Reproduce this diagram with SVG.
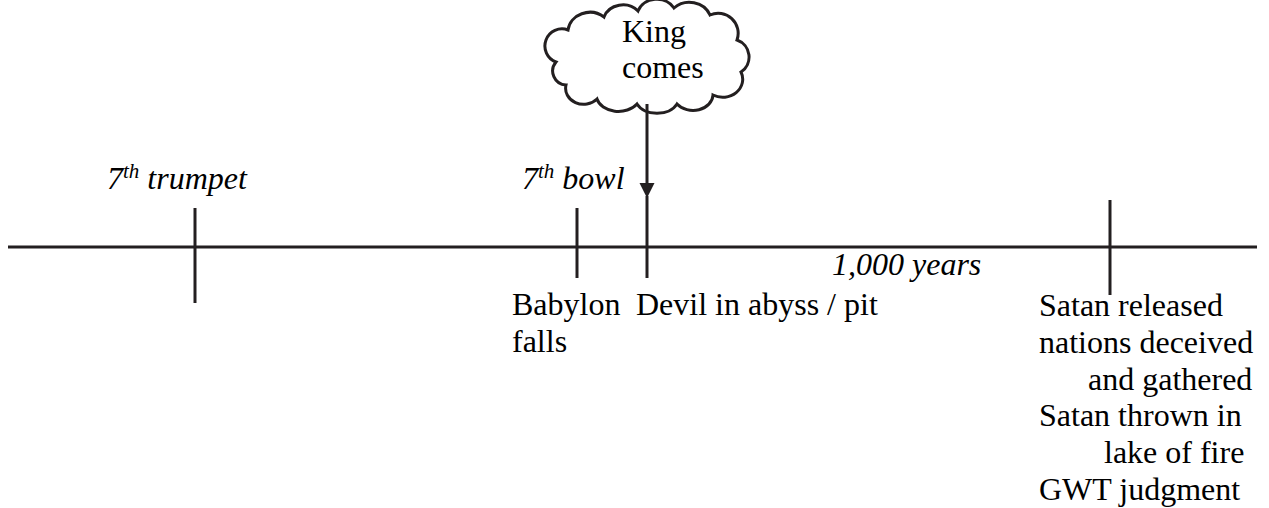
<svg xmlns="http://www.w3.org/2000/svg" width="1269" height="508" viewBox="0 0 1269 508">
  <style>
    .ln { stroke: #231f20; stroke-width: 3; fill: none; }
    .t { font-family: "Liberation Serif", serif; font-size: 32px; fill: #000; }
    .i { font-style: italic; }
    .sup { font-size: 21px; }
    .head { fill: #231f20; stroke: none; }
  </style>
  <rect width="1269" height="508" fill="#ffffff"/>

  <g id="timeline">
    <line class="ln" x1="8" y1="247" x2="1257" y2="247"/>
  </g>

  <g id="trumpet">
    <line class="ln" x1="195" y1="208" x2="195" y2="303"/>
    <text class="t i" x="107" y="189">7<tspan class="sup" dy="-11">th</tspan><tspan dy="11"> trumpet</tspan></text>
  </g>

  <g id="bowl">
    <line class="ln" x1="577" y1="208" x2="577" y2="278"/>
    <text class="t i" x="522" y="189">7<tspan class="sup" dy="-11">th</tspan><tspan dy="11"> bowl</tspan></text>
    <text class="t" x="512" y="315">Babylon</text>
    <text class="t" x="512" y="352">falls</text>
  </g>

  <g id="devil">
    <line class="ln" x1="647" y1="196" x2="647" y2="278"/>
    <text class="t" x="636" y="315">Devil in abyss / pit</text>
  </g>

  <g id="millennium">
    <text class="t i" x="832" y="275">1,000 years</text>
  </g>

  <g id="satan">
    <line class="ln" x1="1110" y1="200" x2="1110" y2="295"/>
    <text class="t" x="1039" y="316">Satan released</text>
    <text class="t" x="1039" y="353">nations deceived</text>
    <text class="t" x="1088" y="390">and gathered</text>
    <text class="t" x="1039" y="426">Satan thrown in</text>
    <text class="t" x="1104" y="463">lake of fire</text>
    <text class="t" x="1039" y="500">GWT judgment</text>
  </g>

  <g id="king">
    <path class="ln" d="M556,62 A17,17 0 0 1 568,30 A22,20 0 0 1 604,17 A20,18 0 0 1 638,11 A20,18 0 0 1 674,8 A22,20 0 0 1 710,15 A20,20 0 0 1 737,40 A18,18 0 0 1 741,72 A20,18 0 0 1 713,95 A20,16 0 0 1 677,104 A22,16 0 0 1 637,104 A22,16 0 0 1 597,99 A18,16 0 0 1 566,85 A14,14 0 0 1 556,62 Z"/>
    <text class="t" x="622" y="42">King</text>
    <text class="t" x="622" y="78">comes</text>
  </g>

  <g id="connectors">
    <line class="ln" x1="647" y1="104" x2="647" y2="185"/>
    <polygon class="head" points="639.5,183 654.5,183 647,198"/>
  </g>
</svg>
